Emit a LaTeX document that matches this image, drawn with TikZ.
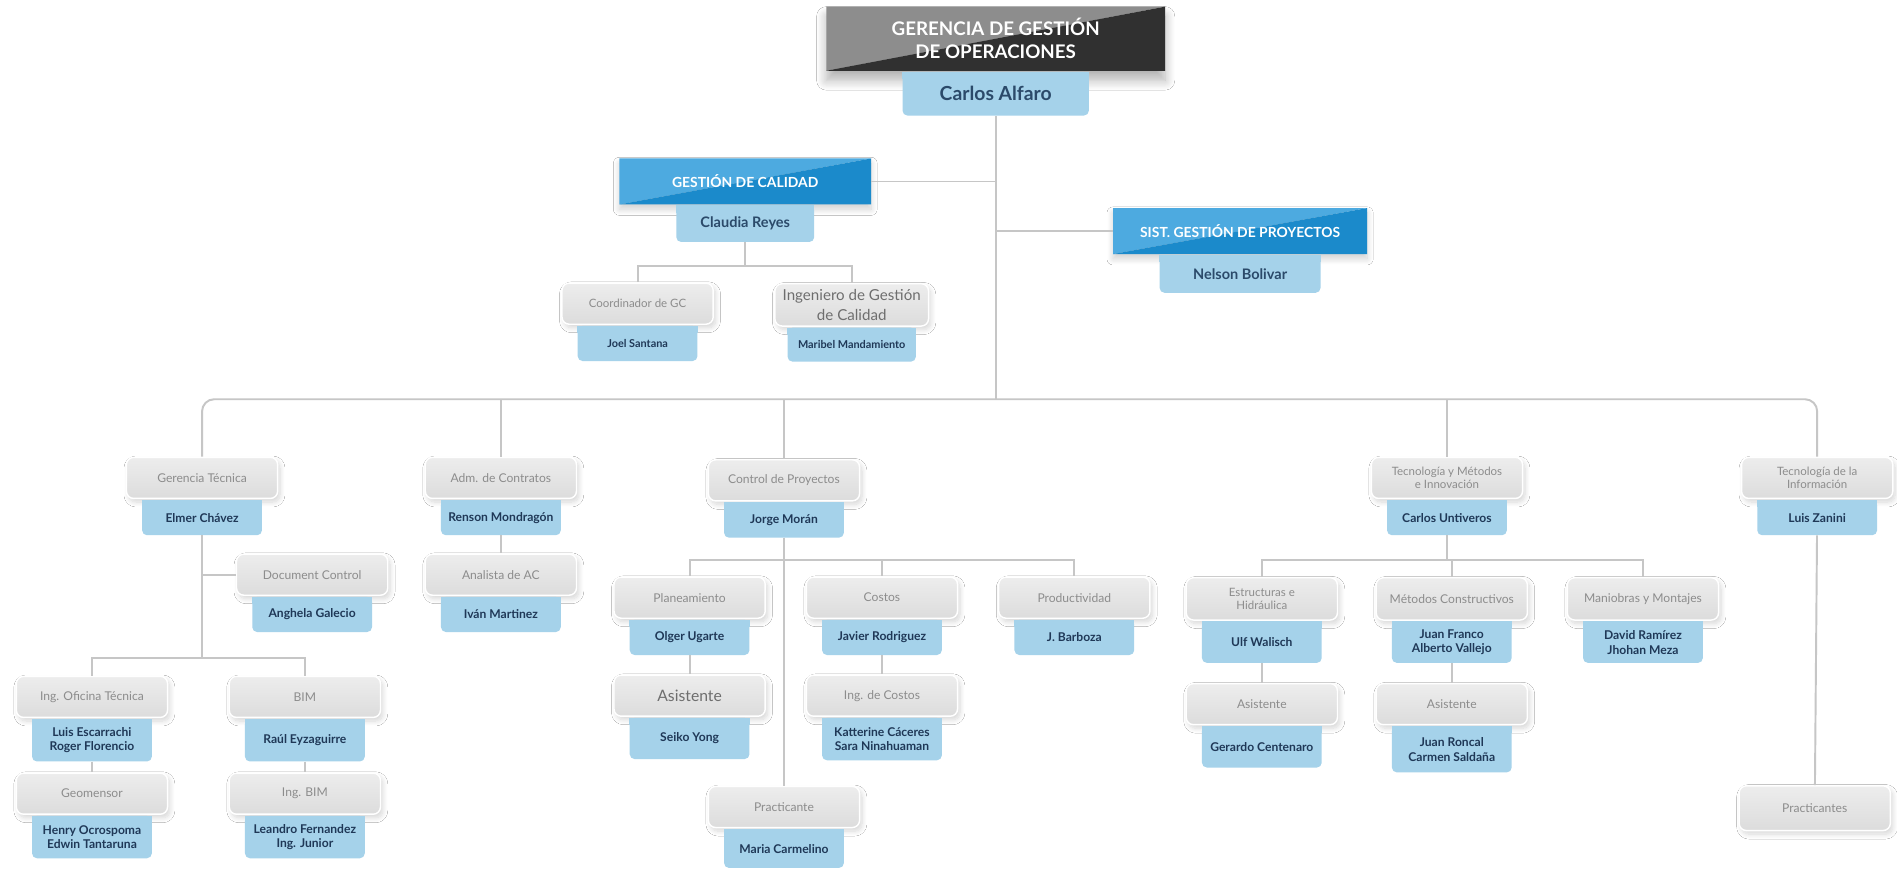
\documentclass[tikz,border=0pt]{standalone}
\usepackage{fontspec}
\setmainfont{Lato}
\usetikzlibrary{positioning,shadows.blur}
\definecolor{roletop}{HTML}{EDEDED}
\definecolor{rolebot}{HTML}{DCDCDC}
\definecolor{roletxt}{HTML}{8C8C8C}
\definecolor{roledark}{HTML}{6E6E6E}
\definecolor{whobg}{HTML}{A5D2EA}
\definecolor{whotxt}{HTML}{1F3857}
\definecolor{bosstxt}{HTML}{2B4A6A}
\definecolor{linegray}{HTML}{C6C6C6}
\definecolor{headlight}{HTML}{8D8D8D}
\definecolor{headdark}{HTML}{303030}
\definecolor{bandlight}{HTML}{4DAAE0}
\definecolor{banddark}{HTML}{1B8ACB}
\tikzset{
  role/.style={draw=white, line width=1.2pt, top color=roletop, bottom color=rolebot, rounded corners=6pt,
    minimum width=125pt, minimum height=34pt, inner sep=2pt, align=center, text=roletxt,
    font=\fontsize{10}{12}\selectfont,
    blur shadow={shadow xshift=2pt, shadow yshift=-3pt, shadow opacity=16, shadow blur radius=4pt, shadow blur steps=10}},
  who/.style={fill=whobg, rounded corners=4pt, minimum width=99pt, minimum height=29pt, inner sep=2pt,
    align=center, text=whotxt, font=\fontsize{10}{12}\selectfont\bfseries, below=0.6pt of #1,
    append after command={\pgfextra{\fill[whobg, sharp corners] (\tikzlastnode.north west) rectangle ([yshift=-6pt]\tikzlastnode.north east);}}},
  banner/.style 2 args={text=white, inner sep=2pt, align=center,
    path picture={
      \fill[#1] (path picture bounding box.north west) -- (path picture bounding box.north east) -- (path picture bounding box.south west) -- cycle;
      \fill[#2] (path picture bounding box.north east) -- (path picture bounding box.south east) -- (path picture bounding box.south west) -- cycle;}},
  link/.style={draw=linegray, line width=1.6pt},
}

\begin{document}
\begin{tikzpicture}[x=1pt, y=-1pt]
  \fill[white] (0,0) rectangle (1568,720);
  \useasboundingbox (0,0) rectangle (1568,720);

  % direccion
  \node[banner={headlight}{headdark}, minimum width=280pt, minimum height=53pt, font=\fontsize{15.5}{19}\selectfont\bfseries,
    blur shadow={shadow xshift=0pt, shadow yshift=-8pt, shadow blur radius=8pt, shadow blur steps=12, shadow opacity=30}] (title) at (823,32) {GERENCIA DE GESTIÓN\\DE OPERACIONES};
  \node[who=title, minimum width=154pt, minimum height=36pt, text=bosstxt, font=\fontsize{16}{18}\selectfont\bfseries] (alfaro) {Carlos Alfaro};
  \coordinate (bus) at (823,330);

  \node[banner={bandlight}{banddark}, minimum width=208pt, minimum height=38pt, font=\fontsize{11.5}{13}\selectfont\bfseries,
    blur shadow={shadow xshift=0pt, shadow yshift=-4pt, shadow blur radius=5pt, shadow blur steps=10, shadow opacity=18}] (gc) at (616,150) {GESTIÓN DE CALIDAD};
  \node[who=gc, minimum width=114pt, minimum height=30pt, text=bosstxt, font=\fontsize{12}{14}\selectfont\bfseries] (reyes) {Claudia Reyes};
  \node[banner={bandlight}{banddark}, minimum width=210pt, minimum height=38pt, font=\fontsize{11.5}{13}\selectfont\bfseries,
    blur shadow={shadow xshift=0pt, shadow yshift=-4pt, shadow blur radius=5pt, shadow blur steps=10, shadow opacity=18}] (sist) at (1025,191) {SIST. GESTIÓN DE PROYECTOS};
  \node[who=sist, minimum width=133pt, minimum height=31pt, text=bosstxt, font=\fontsize{12}{14}\selectfont\bfseries] (nelson) {Nelson Bolivar};

  \node[role, font=\fontsize{9.5}{11}\selectfont] (coord) at (527,251) {Coordinador de GC};
  \node[who=coord, font=\fontsize{9}{11}\selectfont\bfseries] (joel) {Joel Santana};
  \node[role, minimum width=127pt, minimum height=35pt, text=roledark, font=\fontsize{12.5}{17}\selectfont] (ingcal) at (704,252) {Ingeniero de Gestión\\de Calidad};
  \node[who=ingcal, minimum width=106pt, minimum height=28pt, font=\fontsize{9}{11}\selectfont\bfseries] (maribel) {Maribel Mandamiento};

  % primer nivel
  \node[role] (gt) at (167,395) {Gerencia Técnica};
  \node[who=gt] (elmer) {Elmer Chávez};
  \node[role] (adm) at (414,395) {Adm. de Contratos};
  \node[who=adm] (renson) {Renson Mondragón};
  \node[role] (cp) at (648,397) {Control de Proyectos};
  \node[who=cp] (jorge) {Jorge Morán};
  \node[role, font=\fontsize{9.5}{11}\selectfont] (tmi) at (1196,395) {Tecnología y Métodos\\e Innovación};
  \node[who=tmi] (untiveros) {Carlos Untiveros};
  \node[role, font=\fontsize{9.5}{11}\selectfont] (tinf) at (1502,395) {Tecnología de la\\Información};
  \node[who=tinf] (zanini) {Luis Zanini};

  % gerencia tecnica
  \node[role] (dc) at (258,475) {Document Control};
  \node[who=dc] (anghela) {Anghela Galecio};
  \node[role] (ioft) at (76,576) {Ing. Oficina Técnica};
  \node[who=ioft, minimum height=35pt] (escarrachi) {Luis Escarrachi\\Roger Florencio};
  \node[role] (geo) at (76,656) {Geomensor};
  \node[who=geo, minimum height=35pt] (henry) {Henry Ocrospoma\\Edwin Tantaruna};
  \node[role] (bim) at (252,576) {BIM};
  \node[who=bim, minimum height=35pt] (raul) {Raúl Eyzaguirre};
  \node[role] (ingbim) at (252,656) {Ing. BIM};
  \node[who=ingbim, minimum height=35pt] (leandro) {Leandro Fernandez\\Ing. Junior};

  % contratos
  \node[role] (aac) at (414,475) {Analista de AC};
  \node[who=aac] (ivan) {Iván Martinez};

  % control de proyectos
  \node[role] (plan) at (570,494) {Planeamiento};
  \node[who=plan] (olger) {Olger Ugarte};
  \node[role, text=roledark, font=\fontsize{13}{15}\selectfont] (asist1) at (570,575) {Asistente};
  \node[who=asist1, minimum height=34pt] (seiko) {Seiko Yong};
  \node[role] (costos) at (729,494) {Costos};
  \node[who=costos] (javier) {Javier Rodriguez};
  \node[role] (ingcostos) at (729,575) {Ing. de Costos};
  \node[who=ingcostos, minimum height=35pt] (katterine) {Katterine Cáceres\\Sara Ninahuaman};
  \node[role] (prod) at (888,494) {Productividad};
  \node[who=prod] (barboza) {J. Barboza};
  \node[role] (pract) at (648,667) {Practicante};
  \node[who=pract, minimum height=32pt] (maria) {Maria Carmelino};

  % tecnologia y metodos
  \node[role, minimum height=35pt, font=\fontsize{9.5}{11}\selectfont] (estr) at (1043,495) {Estructuras e\\Hidráulica};
  \node[who=estr, minimum height=34pt] (ulf) {Ulf Walisch};
  \node[role] (asist2) at (1043,582) {Asistente};
  \node[who=asist2, minimum height=34pt] (gerardo) {Gerardo Centenaro};
  \node[role, minimum height=35pt] (metodos) at (1200,495) {Métodos Constructivos};
  \node[who=metodos, minimum height=34pt] (franco) {Juan Franco\\Alberto Vallejo};
  \node[role] (asist3) at (1200,582) {Asistente};
  \node[who=asist3, minimum height=38pt] (roncal) {Juan Roncal\\Carmen Saldaña};
  \node[role, minimum height=35pt] (maniobras) at (1358,495) {Maniobras y Montajes};
  \node[who=maniobras, minimum height=34pt] (david) {David Ramírez\\Jhohan Meza};

  % tecnologia de la informacion
  \node[role, minimum height=37pt] (practs) at (1500,668) {Practicantes};

  % conectores
  \draw[link] (alfaro.south) -- (alfaro.south |- bus);
  \draw[link] (gc.east) -- (gc.east -| alfaro.south);
  \draw[link] (sist.west) -- (sist.west -| alfaro.south);
  \draw[link] (reyes.south) -- ++(0,20) -| (coord.north);
  \draw[link] (reyes.south) -- ++(0,20) -| (ingcal.north);
  \draw[link, rounded corners=10pt] (gt.north) -- (gt.north |- bus) -- (tinf.north |- bus) -- (tinf.north);
  \draw[link] (adm.north) -- (adm.north |- bus);
  \draw[link] (cp.north) -- (cp.north |- bus);
  \draw[link] (tmi.north) -- (tmi.north |- bus);

  \draw[link] (dc.west) -- (dc.west -| elmer.south);
  \draw[link] (elmer.south) -- ++(0,101) -| (ioft.north);
  \draw[link] (elmer.south) -- ++(0,101) -| (bim.north);
  \draw[link] (escarrachi) -- (geo);
  \draw[link] (raul) -- (ingbim);
  \draw[link] (renson) -- (aac);

  \draw[link] (jorge.south) -- ++(0,18.5) -| (plan.north);
  \draw[link] (jorge.south) -- ++(0,18.5) -| (costos.north);
  \draw[link] (jorge.south) -- ++(0,18.5) -| (prod.north);
  \draw[link] (jorge) -- (pract);
  \draw[link] (olger) -- (asist1);
  \draw[link] (javier) -- (ingcostos);

  \draw[link] (untiveros.south) -- ++(0,20) -| (estr.north);
  \draw[link] (untiveros.south) -- ++(0,20) -| (metodos.north);
  \draw[link] (untiveros.south) -- ++(0,20) -| (maniobras.north);
  \draw[link] (ulf) -- (asist2);
  \draw[link] (franco) -- (asist3);
  \draw[link] (zanini) -- (practs);
\end{tikzpicture}
\end{document}
